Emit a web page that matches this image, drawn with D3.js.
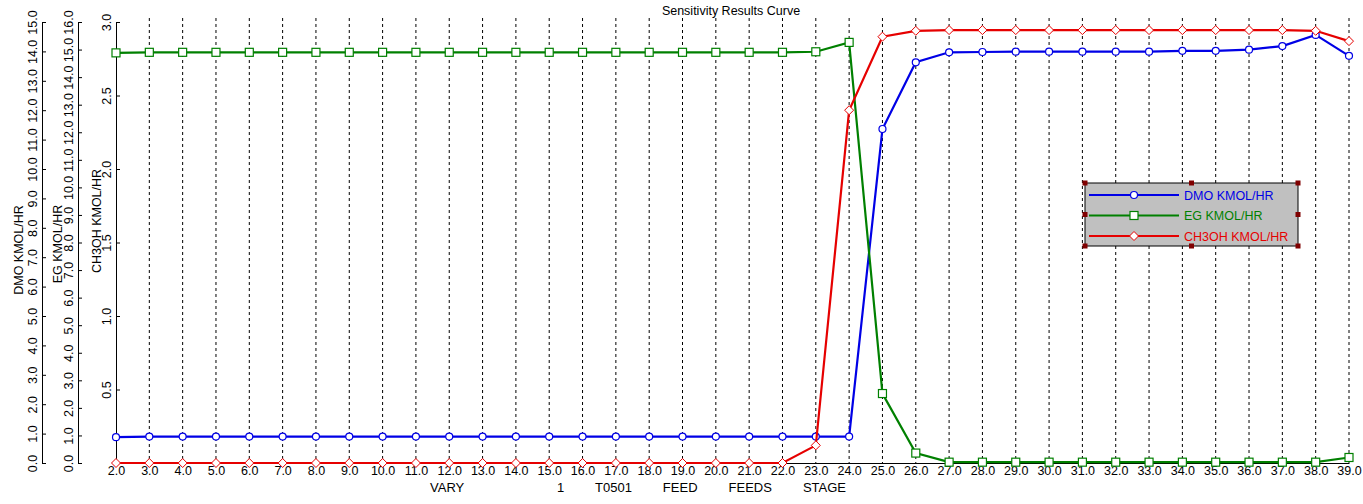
<!DOCTYPE html>
<html>
<head>
<meta charset="utf-8">
<script src="https://cdn.jsdelivr.net/npm/d3@7"></script>
<style>
  html, body { margin: 0; padding: 0; background: #fff; }
  svg { display: block; font-family: "Liberation Sans", Arial, sans-serif; }
</style>
</head>
<body>
<svg id="chart" width="1363" height="504"></svg>
<script>
// ---- data ----
const stages = [2,3,4,5,6,7,8,9,10,11,12,13,14,15,16,17,18,19,20,21,22,23,24,25,26,27,28,29,30,31,32,33,34,35,36,37,38,39];
const dmo = [0.88,0.9,0.9,0.9,0.9,0.9,0.9,0.9,0.9,0.9,0.9,0.9,0.9,0.9,0.9,0.9,0.9,0.9,0.9,0.9,0.9,0.9,0.9,
             11.36,13.63,13.97,13.98,13.99,13.99,13.99,13.99,13.99,14.02,14.02,14.06,14.18,14.56,13.85];
const eg = [14.88,14.9,14.9,14.9,14.9,14.9,14.9,14.9,14.9,14.9,14.9,14.9,14.9,14.9,14.9,14.9,14.9,14.9,14.9,14.9,14.9,14.92,15.26,
            2.52,0.36,0.03,0.03,0.03,0.03,0.03,0.03,0.03,0.03,0.03,0.03,0.03,0.03,0.2];
const ch3oh = [0,0,0,0,0,0,0,0,0,0,0,0,0,0,0,0,0,0,0,0,0,0.12,2.4,
               2.9,2.94,2.945,2.945,2.945,2.945,2.945,2.945,2.945,2.945,2.945,2.945,2.945,2.94,2.87];
const dmoTicks = [0,1,2,3,4,5,6,7,8,9,10,11,12,13,14,15];
const egTicks = [0,1,2,3,4,5,6,7,8,9,10,11,12,13,14,15,16];
const chTicks = [0.5,1.0,1.5,2.0,2.5,3.0];
const seriesNames = ["DMO KMOL/HR","EG KMOL/HR","CH3OH KMOL/HR"];
const chartTitle = "Sensitivity Results Curve";
const xTitle = "VARY   1 T0501 FEED FEEDS STAGE";

// ---- layout ----
const svg = d3.select("#chart");
const pTop = 22, pBottom = 463, pLeft = 116, pRight = 1349;
const x = d3.scaleLinear().domain([2,39]).range([pLeft,pRight]);
const yD = d3.scaleLinear().domain([0,15]).range([pBottom,pTop]);
const yE = d3.scaleLinear().domain([0,16]).range([pBottom,pTop]);
const yC = d3.scaleLinear().domain([0,3]).range([pBottom,pTop]);

const colors = {dmo:"#0000e6", eg:"#008000", ch:"#e60000"};

// grid lines (vertical dashed)
svg.append("g").selectAll("line").data(stages.slice(1)).join("line")
  .attr("x1", d=>x(d)).attr("x2", d=>x(d))
  .attr("y1", pTop-4).attr("y2", pBottom)
  .attr("stroke","#000").attr("stroke-width",1).attr("stroke-dasharray","3,3");

// x axis
const xAxis = svg.append("g").attr("transform",`translate(0,${pBottom})`)
  .call(d3.axisBottom(x).tickValues(stages).tickFormat(d3.format(".1f")).tickSize(0).tickPadding(3));
xAxis.select(".domain").attr("stroke","#000");
xAxis.selectAll("text").attr("font-size",12.5).attr("fill","#000").attr("font-family","Liberation Sans, Arial, sans-serif");

// y axes
function yAxis(scale, xpos, ticks, title, titleX, titleY) {
  const g = svg.append("g").attr("transform",`translate(${xpos},0)`)
    .call(d3.axisLeft(scale).tickValues(ticks).tickFormat(d3.format(".1f")).tickSize(-4).tickSizeOuter(0));
  g.select(".domain").attr("stroke","#000");
  g.selectAll(".tick line").attr("stroke","#000");
  g.selectAll("text")
    .attr("x",null).attr("dy",null)
    .attr("text-anchor","middle")
    .attr("transform","translate(-5,0) rotate(-90)")
    .attr("font-size",12.5).attr("fill","#000")
    .attr("font-family","Liberation Sans, Arial, sans-serif");
  svg.append("text").attr("transform",`translate(${titleX},${titleY}) rotate(-90)`)
    .attr("text-anchor","middle").attr("font-size",12.5).attr("fill","#000").text(title);
}
yAxis(yD, 42, dmoTicks, seriesNames[0], 23, 250);
yAxis(yE, 78, egTicks, seriesNames[1], 62, 244);
yAxis(yC, 116, chTicks, seriesNames[2], 101, 221);

// title
svg.append("text").attr("x",731).attr("y",15).attr("text-anchor","middle")
  .attr("font-size",12.5).attr("fill","#000").text(chartTitle);
// x title: normal letters, word gaps widened so it spans the same width as the reference
const xt = svg.append("text").attr("x",430).attr("y",492).attr("font-size",13).attr("fill","#000")
  .attr("xml:space","preserve").style("white-space","pre").text(xTitle);
const natural = xt.node().getComputedTextLength();
const nSpaces = (xTitle.match(/ /g) || []).length;
xt.style("word-spacing", ((416 - natural) / nSpaces) + "px");

function marker(g, shape, color) {
  if (shape==="circle") g.append("circle").attr("r",3.5).attr("fill","#fff").attr("stroke",color).attr("stroke-width",1.2);
  else if (shape==="square") g.append("rect").attr("x",-4).attr("y",-4).attr("width",8).attr("height",8).attr("fill","#fff").attr("stroke",color).attr("stroke-width",1.2);
  else g.append("path").attr("d","M0,-4.5L4.5,0L0,4.5L-4.5,0Z").attr("fill","#fff").attr("stroke",color).attr("stroke-width",1);
}

function drawSeries(vals, scale, color, shape) {
  const pts = stages.map((s,i)=>[x(s), scale(vals[i])]);
  svg.append("path").attr("d", d3.line()(pts)).attr("fill","none")
    .attr("stroke",color).attr("stroke-width",2.2);
  const g = svg.append("g");
  pts.forEach(p=>{
    marker(g.append("g").attr("transform",`translate(${p[0]},${p[1]})`), shape, color);
  });
}
drawSeries(dmo, yD, colors.dmo, "circle");
drawSeries(eg, yE, colors.eg, "square");
drawSeries(ch3oh, yC, colors.ch, "diamond");

// legend
const lg = svg.append("g");
const lx0 = 1085, ly0 = 183, lw = 213, lh = 63;
lg.append("rect").attr("x",lx0).attr("y",ly0).attr("width",lw).attr("height",lh)
  .attr("fill","#c0c0c0").attr("stroke","#000").attr("stroke-width",1);
const handles = [[0,0],[lw/2,0],[lw,0],[0,lh/2],[lw,lh/2],[0,lh],[lw/2,lh],[lw,lh]];
lg.selectAll("rect.h").data(handles).join("rect").attr("class","h")
  .attr("x",d=>lx0+d[0]-2.5).attr("y",d=>ly0+d[1]-2.5).attr("width",5).attr("height",5).attr("fill","#800000");
const legItems = [
  {name:seriesNames[0], color:colors.dmo, shape:"circle"},
  {name:seriesNames[1], color:colors.eg, shape:"square"},
  {name:seriesNames[2], color:colors.ch, shape:"diamond"}];
legItems.forEach((it,i)=>{
  const yy = ly0 + 12 + i*20.5;
  lg.append("line").attr("x1",1089).attr("x2",1179).attr("y1",yy).attr("y2",yy)
    .attr("stroke",it.color).attr("stroke-width",2);
  marker(lg.append("g").attr("transform",`translate(1134,${yy})`), it.shape, it.color);
  lg.append("text").attr("x",1184).attr("y",yy+4.5).attr("font-size",12.5).attr("fill",it.color).text(it.name);
});
</script>
</body>
</html>
